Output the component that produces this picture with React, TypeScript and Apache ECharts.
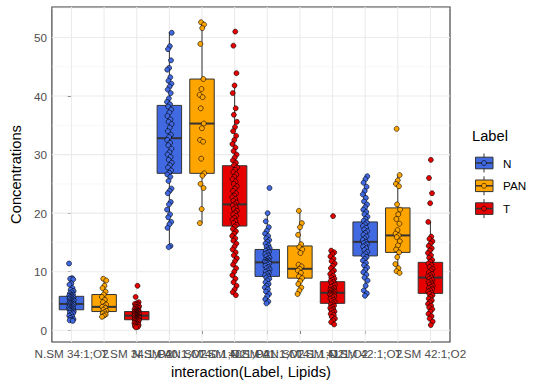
import React, { useEffect, useRef } from "react";
import * as echarts from "echarts";

// ---- data ----
const labels = ["N", "PAN", "T"];
const lipids = ["SM 34:1;O2", "SM 40:1;O2", "SM 41:1;O2", "SM 42:1;O2"];
const categories = lipids.flatMap((l) => labels.map((g) => `${g}.${l}`));
const labelColors = ["#4169E1", "#FFA500", "#E60000"];

// box statistics per category (lower whisker, Q1, median, Q3, upper whisker)
const whiskerLow = [1.7, 2.3, 0.5, 14.2, 18.3, 6.0, 4.6, 6.2, 1.0, 5.9, 9.8, 0.9];
const q1 = [3.5, 3.2, 1.8, 26.8, 26.8, 17.8, 9.2, 8.9, 4.6, 12.7, 13.3, 6.3];
const medians = [4.5, 4.0, 2.5, 32.8, 35.3, 21.5, 11.6, 10.5, 6.4, 15.1, 16.2, 9.0];
const q3 = [5.8, 6.1, 3.2, 38.4, 42.9, 28.1, 13.8, 14.4, 8.3, 18.5, 20.9, 11.6];
const whiskerHigh = [8.9, 8.8, 4.8, 50.9, 52.6, 42.0, 20.0, 20.4, 13.6, 26.3, 26.5, 18.5];

// observations per category
const pN34 = [11.4, 8.9, 8.8, 8.7, 8.0, 7.8, 7.2, 6.9, 6.7, 6.5, 6.3, 6.1, 6.0, 5.9, 5.8, 5.7, 5.6, 5.5, 5.4, 5.3, 5.2, 5.1, 5.0, 4.9, 4.8, 4.7, 4.6, 4.5, 4.5, 4.4, 4.3, 4.2, 4.1, 4.0, 3.9, 3.8, 3.7, 3.6, 3.5, 3.5, 3.4, 3.3, 3.2, 3.1, 3.0, 2.9, 2.7, 2.5, 2.3, 2.1, 1.9, 1.8, 1.7, 1.6];
const pPAN34 = [8.8, 8.5, 7.6, 7.2, 6.6, 6.1, 5.7, 5.2, 4.8, 4.4, 4.1, 4.0, 3.8, 3.5, 3.3, 3.1, 2.9, 2.7, 2.5, 2.3];
const pT34 = [7.6, 5.7, 4.8, 4.6, 4.5, 4.4, 4.3, 4.1, 4.0, 3.9, 3.8, 3.7, 3.6, 3.5, 3.4, 3.3, 3.3, 3.2, 3.2, 3.1, 3.1, 3.0, 3.0, 2.9, 2.9, 2.8, 2.8, 2.7, 2.7, 2.6, 2.6, 2.5, 2.5, 2.5, 2.4, 2.4, 2.3, 2.3, 2.2, 2.2, 2.1, 2.1, 2.0, 2.0, 1.9, 1.9, 1.8, 1.8, 1.7, 1.7, 1.6, 1.5, 1.4, 1.3, 1.2, 1.1, 1.0, 0.9, 0.8, 0.7, 0.6, 0.5];
const pN40 = [50.8, 48.5, 48.0, 46.1, 44.8, 44.5, 43.2, 42.6, 42.1, 41.6, 41.1, 40.5, 39.6, 39.0, 38.6, 38.2, 37.7, 37.2, 36.6, 36.0, 35.6, 35.2, 34.6, 34.0, 33.4, 33.0, 32.5, 32.0, 31.6, 31.0, 30.4, 30.0, 29.6, 29.1, 28.6, 28.2, 27.8, 27.3, 26.9, 26.6, 26.2, 25.5, 24.2, 23.8, 23.4, 21.9, 21.5, 20.6, 19.8, 19.3, 18.5, 18.1, 17.5, 14.4, 14.2];
const pPAN40 = [52.6, 52.2, 51.6, 48.9, 42.9, 41.2, 40.2, 39.8, 37.9, 35.3, 34.5, 32.5, 32.2, 29.3, 26.8, 26.4, 25.0, 24.3, 20.7, 18.3];
const pT40 = [51.0, 48.6, 43.9, 41.8, 40.5, 37.9, 36.8, 35.6, 34.7, 34.0, 33.2, 32.5, 31.8, 31.2, 30.6, 30.0, 29.5, 29.0, 28.6, 28.2, 27.8, 27.4, 27.0, 26.6, 26.2, 25.8, 25.4, 25.0, 24.6, 24.2, 23.8, 23.4, 23.0, 22.7, 22.4, 22.1, 21.8, 21.5, 21.3, 21.0, 20.7, 20.4, 20.1, 19.8, 19.5, 19.2, 18.9, 18.6, 18.3, 18.0, 17.7, 17.3, 16.9, 16.5, 16.1, 15.7, 15.3, 14.8, 14.3, 13.8, 13.3, 12.8, 12.3, 11.8, 11.2, 10.6, 10.0, 9.4, 8.8, 8.2, 7.6, 7.0, 6.5, 6.0];
const pN41 = [24.3, 20.0, 18.6, 17.6, 17.0, 16.5, 16.1, 15.7, 15.4, 15.1, 14.8, 14.5, 14.2, 14.0, 13.8, 13.6, 13.4, 13.2, 13.0, 12.8, 12.6, 12.4, 12.2, 12.0, 11.9, 11.8, 11.7, 11.6, 11.5, 11.4, 11.2, 11.0, 10.8, 10.6, 10.4, 10.2, 10.0, 9.8, 9.6, 9.4, 9.2, 9.0, 8.8, 8.5, 8.2, 7.9, 7.6, 7.3, 7.0, 6.6, 6.2, 5.8, 5.3, 4.9, 4.6];
const pPAN41 = [20.4, 18.3, 17.6, 16.3, 14.7, 14.2, 13.8, 13.2, 11.2, 10.9, 10.5, 10.2, 9.8, 9.2, 8.9, 8.4, 7.9, 7.3, 6.8, 6.2];
const pT41 = [19.5, 13.6, 13.3, 13.0, 12.6, 12.2, 11.8, 11.4, 11.0, 10.6, 10.2, 9.9, 9.6, 9.3, 9.0, 8.8, 8.6, 8.4, 8.2, 8.0, 7.8, 7.6, 7.4, 7.2, 7.0, 6.9, 6.8, 6.7, 6.6, 6.5, 6.4, 6.3, 6.2, 6.1, 6.0, 5.9, 5.8, 5.6, 5.4, 5.2, 5.0, 4.8, 4.6, 4.4, 4.2, 4.0, 3.8, 3.6, 3.4, 3.2, 3.0, 2.8, 2.6, 2.3, 2.0, 1.7, 1.4, 1.0];
const pN42 = [26.3, 25.8, 25.2, 24.5, 23.8, 23.2, 22.6, 22.0, 21.5, 21.0, 20.6, 20.2, 19.8, 19.4, 19.0, 18.7, 18.4, 18.1, 17.8, 17.5, 17.2, 16.9, 16.6, 16.3, 16.0, 15.7, 15.4, 15.1, 14.9, 14.7, 14.5, 14.3, 14.0, 13.7, 13.4, 13.1, 12.8, 12.5, 12.2, 11.9, 11.5, 11.1, 10.7, 10.3, 9.9, 9.5, 9.0, 8.5, 7.6, 6.8, 6.3, 5.9];
const pPAN42 = [34.4, 26.5, 25.6, 25.0, 24.6, 21.5, 20.6, 19.8, 19.0, 18.2, 17.1, 16.5, 16.2, 15.9, 15.2, 14.5, 13.8, 13.3, 12.5, 11.3, 10.6, 10.1, 9.8];
const pT42 = [29.1, 26.0, 23.4, 21.7, 18.5, 16.0, 15.6, 15.2, 14.8, 14.4, 14.0, 13.6, 13.2, 12.8, 12.4, 12.0, 11.7, 11.4, 11.1, 10.8, 10.5, 10.2, 9.9, 9.6, 9.4, 9.2, 9.0, 8.8, 8.6, 8.4, 8.2, 8.0, 7.8, 7.6, 7.4, 7.2, 7.0, 6.8, 6.6, 6.4, 6.2, 6.0, 5.7, 5.4, 5.1, 4.8, 4.5, 4.2, 3.9, 3.6, 3.2, 2.8, 2.4, 2.0, 1.5, 0.9];
const pointsByCategory = [pN34, pPAN34, pT34, pN40, pPAN40, pT40, pN41, pPAN41, pT41, pN42, pPAN42, pT42];

const yTicks = [0, 10, 20, 30, 40, 50];
const yMinor = [5, 15, 25, 35, 45, 55];

const FONT = "'Liberation Sans', Arial, sans-serif";

// deterministic small horizontal spread of points inside a category
const jitter = (j: number) => (((j * 0.6180339887) % 1) - 0.5) * 0.15;

export default function App() {
  const ref = useRef<HTMLDivElement>(null);
  useEffect(() => {
    document.body.style.margin = "0";
    const chart = echarts.init(ref.current!, undefined, { renderer: "svg" });
    const xIdx = categories.map((_, i) => i);

    const boxData = categories.map((_, i) => [i, whiskerLow[i], q1[i], medians[i], q3[i], whiskerHigh[i], i % 3]);
    const gridData: number[][] = [
      ...xIdx.map((v) => [0, v]),
      ...yTicks.map((v) => [1, v]),
      ...yMinor.map((v) => [2, v]),
    ];

    const scatterSeries = labels.map((lab, g) => ({
      type: "scatter",
      name: lab,
      z: 5,
      symbol: "circle",
      symbolSize: 5,
      itemStyle: { color: labelColors[g], borderColor: "#000", borderWidth: 0.6, opacity: 1 },
      data: lipids.flatMap((_, li) => {
        const idx = li * 3 + g;
        return pointsByCategory[idx].map((v, j) => [idx + jitter(j + idx * 7), v]);
      }),
    }));

    const legendGraphics: any[] = [
      { type: "text", left: 472, top: 128, style: { text: "Label", fontSize: 14.7, fontFamily: FONT, fill: "#000" } },
    ];
    labels.forEach((lab, g) => {
      const cy = 163 + g * 22.8;
      legendGraphics.push(
        { type: "line", shape: { x1: 484, y1: cy - 9.5, x2: 484, y2: cy + 9.5 }, style: { stroke: "#333", lineWidth: 1 } },
        { type: "rect", shape: { x: 475.5, y: cy - 5.8, width: 17.5, height: 11.6 }, style: { fill: labelColors[g], stroke: "#333", lineWidth: 1 } },
        { type: "line", shape: { x1: 475.5, y1: cy, x2: 493, y2: cy }, style: { stroke: "#333", lineWidth: 1.5 } },
        { type: "circle", shape: { cx: 484, cy, r: 2.5 }, style: { fill: labelColors[g], stroke: "#000", lineWidth: 0.6 } },
        { type: "text", x: 503, y: cy, style: { text: lab, fontSize: 11.7, fontFamily: FONT, fill: "#000", verticalAlign: "middle" } }
      );
    });

    chart.setOption({
      animation: false,
      backgroundColor: "#fff",
      textStyle: { fontFamily: FONT },
      grid: { left: 46, top: 7, width: 404, height: 335, show: true, borderColor: "#333", borderWidth: 1.1, backgroundColor: "transparent" },
      xAxis: {
        type: "value",
        min: -0.6,
        max: 11.6,
        name: "interaction(Label, Lipids)",
        nameLocation: "middle",
        nameGap: 22,
        nameTextStyle: { fontSize: 14.7, color: "#000", fontFamily: FONT },
        axisLine: { show: false },
        axisTick: { show: true, length: 3.7, lineStyle: { color: "#333", width: 1 }, customValues: xIdx },
        axisLabel: {
          customValues: xIdx,
          formatter: (v: number) => categories[Math.round(v)],
          fontSize: 11.7,
          color: "#4D4D4D",
          margin: 5,
          hideOverlap: false,
          showMinLabel: true,
          showMaxLabel: true,
          fontFamily: FONT,
        },
        splitLine: { show: false },
      },
      yAxis: {
        type: "value",
        min: -2.0,
        max: 55.2,
        name: "Concentrations",
        nameLocation: "middle",
        nameGap: 24,
        nameTextStyle: { fontSize: 14.7, color: "#000", fontFamily: FONT },
        axisLine: { show: false },
        axisTick: { show: true, length: 3.7, lineStyle: { color: "#333", width: 1 }, customValues: yTicks },
        axisLabel: { customValues: yTicks, fontSize: 11.7, color: "#4D4D4D", margin: 5, fontFamily: FONT },
        splitLine: { show: false },
      },
      series: [
        {
          type: "custom",
          z: 1,
          silent: true,
          data: gridData,
          renderItem: (params: any, api: any) => {
            const kind = api.value(0);
            const v = api.value(1);
            const cs = params.coordSys;
            if (kind === 0) {
              const x = api.coord([v, 0])[0];
              return { type: "line", shape: { x1: x, y1: cs.y, x2: x, y2: cs.y + cs.height }, style: { stroke: "#EBEBEB", lineWidth: 1.1 } };
            }
            const y = api.coord([0, v])[1];
            return {
              type: "line",
              shape: { x1: cs.x, y1: y, x2: cs.x + cs.width, y2: y },
              style: { stroke: kind === 1 ? "#EBEBEB" : "#F2F2F2", lineWidth: kind === 1 ? 1.1 : 0.6 },
            };
          },
        },
        {
          type: "custom",
          z: 3,
          data: boxData,
          renderItem: (params: any, api: any) => {
            const x = api.value(0);
            const pLo = api.coord([x, api.value(1)]);
            const pA = api.coord([x, api.value(2)]);
            const pM = api.coord([x, api.value(3)]);
            const pB = api.coord([x, api.value(4)]);
            const pHi = api.coord([x, api.value(5)]);
            const color = labelColors[api.value(6)];
            const half = api.size([0.75, 0])[0] / 2;
            const cx = pLo[0];
            return {
              type: "group",
              children: [
                { type: "line", shape: { x1: cx, y1: pHi[1], x2: cx, y2: pB[1] }, style: { stroke: "#333", lineWidth: 1 } },
                { type: "line", shape: { x1: cx, y1: pA[1], x2: cx, y2: pLo[1] }, style: { stroke: "#333", lineWidth: 1 } },
                { type: "rect", shape: { x: cx - half, y: pB[1], width: half * 2, height: pA[1] - pB[1] }, style: { fill: color, stroke: "#333", lineWidth: 1 } },
                { type: "line", shape: { x1: cx - half, y1: pM[1], x2: cx + half, y2: pM[1] }, style: { stroke: "#333", lineWidth: 2 } },
              ],
            };
          },
        },
        ...scatterSeries,
      ],
      graphic: legendGraphics,
    });
    return () => chart.dispose();
  }, []);
  return <div ref={ref} style={{ width: 541, height: 388 }} />;
}
